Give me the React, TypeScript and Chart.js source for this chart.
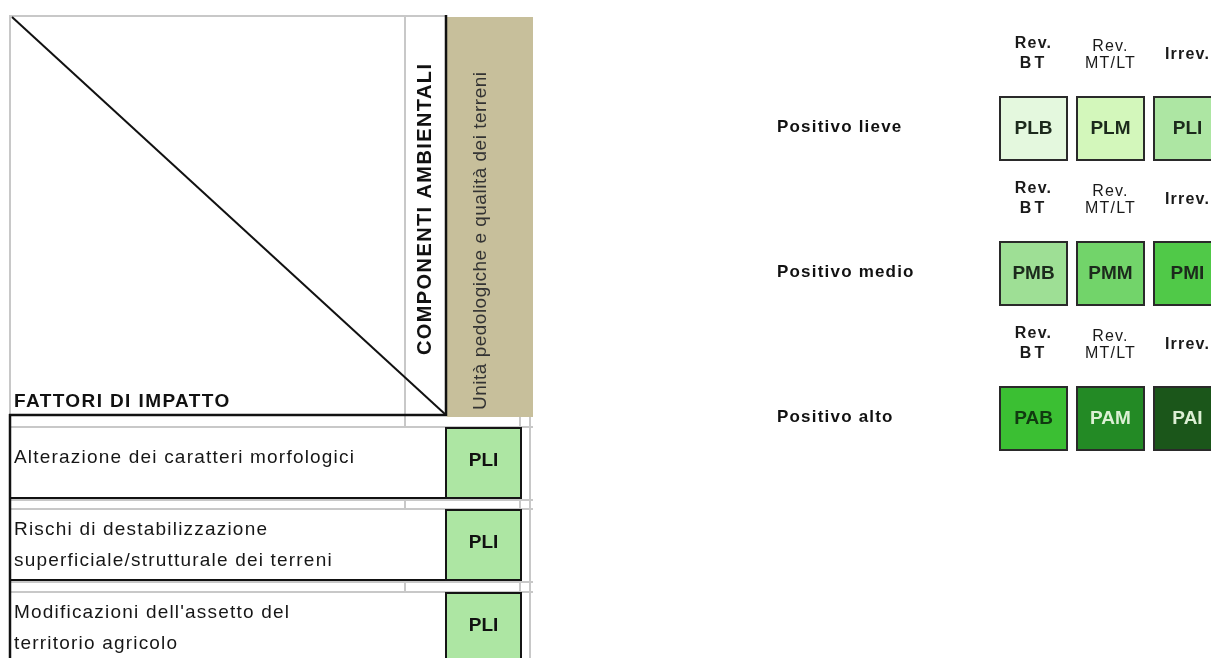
import React, { useEffect, useRef } from "react";
import { Chart, registerables } from "chart.js";

Chart.register(...registerables);

// ---------- data ----------
const headerRows = "FATTORI DI IMPATTO";
const headerCols = "COMPONENTI AMBIENTALI";
const component = "Unità pedologiche e qualità dei terreni";
const factors: string[][] = [
  ["Alterazione dei caratteri morfologici"],
  ["Rischi di destabilizzazione", "superficiale/strutturale dei terreni"],
  ["Modificazioni dell'assetto del", "territorio agricolo"],
];
const factorValues = ["PLI", "PLI", "PLI"];

const levels = ["Positivo lieve", "Positivo medio", "Positivo alto"];
const durations: string[][] = [["Rev.", "BT"], ["Rev.", "MT/LT"], ["Irrev."]];
const codes: string[][] = [
  ["PLB", "PLM", "PLI"],
  ["PMB", "PMM", "PMI"],
  ["PAB", "PAM", "PAI"],
];
const codeColors: Record<string, string> = {
  PLB: "#e4f8de",
  PLM: "#d3f7bb",
  PLI: "#ade6a3",
  PMB: "#9edf95",
  PMM: "#72d46a",
  PMI: "#50c948",
  PAB: "#3bbf33",
  PAM: "#238a25",
  PAI: "#1b561a",
};
const codeTextColors: Record<string, string> = {
  PAB: "#103a10",
  PAM: "#dcf0d4",
  PAI: "#dcefd4",
};

// ---------- layout ----------
const W = 1211;
const H = 658;
const FONT = '"Liberation Sans", Arial, sans-serif';
const rowTops = [428, 510, 593];
const rowH = 70;
const boxX0 = 446;
const boxX1 = 521;
const legendColX = [1000, 1077, 1154];
const legendRowY = [97, 242, 387];
const legendBox = { w: 67, h: 63 };

export default function App() {
  const ref = useRef<HTMLCanvasElement>(null);

  useEffect(() => {
    if (!ref.current) return;

    const matrixPlugin = {
      id: "matrixTable",
      afterDraw(chart: any) {
        const { ctx, scales } = chart;
        const X = (v: number) => scales.x.getPixelForValue(v);
        const Y = (v: number) => scales.y.getPixelForValue(v);

        const line = (x1: number, y1: number, x2: number, y2: number, color: string, w: number) => {
          ctx.save();
          ctx.strokeStyle = color;
          ctx.lineWidth = w;
          ctx.beginPath();
          ctx.moveTo(X(x1), Y(y1));
          ctx.lineTo(X(x2), Y(y2));
          ctx.stroke();
          ctx.restore();
        };
        const rect = (x0: number, y0: number, x1: number, y1: number, fill: string | null, stroke?: string, lw = 2) => {
          const px = X(x0), py = Y(y0), pw = X(x1) - X(x0), ph = Y(y1) - Y(y0);
          ctx.save();
          if (fill) {
            ctx.fillStyle = fill;
            ctx.fillRect(px, py, pw, ph);
          }
          if (stroke) {
            ctx.strokeStyle = stroke;
            ctx.lineWidth = lw;
            ctx.strokeRect(px, py, pw, ph);
          }
          ctx.restore();
        };
        const text = (
          s: string, x: number, y: number, font: string, color: string,
          align: CanvasTextAlign = "left", base: CanvasTextBaseline = "alphabetic", spacing = 0, rot = 0
        ) => {
          ctx.save();
          ctx.font = font;
          ctx.fillStyle = color;
          ctx.textAlign = align;
          ctx.textBaseline = base;
          (ctx as any).letterSpacing = spacing + "px";
          ctx.translate(X(x), Y(y));
          if (rot) ctx.rotate(rot);
          ctx.fillText(s, 0, 0);
          ctx.restore();
        };

        ctx.save();
        ctx.fillStyle = "#ffffff";
        ctx.fillRect(0, 0, chart.width, chart.height);
        ctx.restore();

        // ---------- left matrix ----------
        const gray = "#c8c8c8";
        line(9, 16, 446, 16, gray, 2);
        line(10, 16, 10, 415, gray, 2);
        line(405, 16, 405, H, gray, 2);
        line(520, 417, 520, H, gray, 2);
        line(530, 417, 530, H, gray, 2);
        line(10, 427, 533, 427, gray, 2);
        rowTops.forEach((t, i) => {
          if (i > 0) {
            line(10, rowTops[i - 1] + rowH + 2, 533, rowTops[i - 1] + rowH + 2, gray, 2);
            line(10, t - 1, 533, t - 1, gray, 2);
          }
        });

        // tan header for the component column
        rect(447, 17, 533, 417, "#c7bf9b");

        // factor rows
        const rowFont = `19px ${FONT}`;
        rowTops.forEach((t, i) => {
          rect(11, t, boxX0, t + rowH, "#ffffff");
          line(10, t + rowH, boxX0, t + rowH, "#111", 2);
          const lines = factors[i];
          if (lines.length === 1) {
            text(lines[0], 14, t + 35, rowFont, "#161616", "left", "alphabetic", 1.2);
          } else {
            text(lines[0], 14, t + 24.5, rowFont, "#161616", "left", "alphabetic", 1.2);
            text(lines[1], 14, t + 55.5, rowFont, "#161616", "left", "alphabetic", 1.2);
          }
          const v = factorValues[i];
          rect(boxX0, t, boxX1, t + rowH, codeColors[v], "#151515", 2);
          text(v, (boxX0 + boxX1) / 2, t + rowH / 2 - 2, `bold 19px ${FONT}`, "#111", "center", "middle", 0);
        });
        line(10, 414, 10, H, "#111", 2.5);

        // header lines
        line(446, 15, 446, 416, "#111", 2.5);
        line(9, 415, 447, 415, "#111", 2.5);
        line(12, 17, 446, 415, "#111", 2);

        text(headerRows, 14, 407, `bold 19px ${FONT}`, "#111", "left", "alphabetic", 1.4);
        text(headerCols, 425, 355, `bold 20px ${FONT}`, "#111", "left", "middle", 1.4, -Math.PI / 2);
        text(component, 481, 410, `19px ${FONT}`, "#333", "left", "middle", 0.5, -Math.PI / 2);

        // ---------- right legend ----------
        legendRowY.forEach((top, r) => {
          text(levels[r], 777, top + 30, `bold 17px ${FONT}`, "#111", "left", "middle", 1.2);
          legendColX.forEach((x0, c) => {
            const cx = x0 + legendBox.w / 2;
            const hdr = durations[c];
            if (hdr.length === 2) {
              const w0 = c === 0 ? "bold " : "";
              text(hdr[0], cx, top - (c === 0 ? 53 : 50), `${w0}16px ${FONT}`, "#1a1a1a", "center", "middle", 1.2);
              text(hdr[1], cx, top - 33, `${w0}16px ${FONT}`, "#1a1a1a", "center", "middle", c === 0 ? 3 : 1.2);
            } else {
              text(hdr[0], cx, top - 42, `bold 16px ${FONT}`, "#1a1a1a", "center", "middle", 1.2);
            }
            const code = codes[r][c];
            rect(x0, top, x0 + legendBox.w, top + legendBox.h, codeColors[code], "#2a2a2a", 2);
            text(code, cx, top + legendBox.h / 2, `bold 19px ${FONT}`, codeTextColors[code] || "#1c2a1c", "center", "middle", 0);
          });
        });
      },
    };

    const chart = new Chart(ref.current, {
      type: "scatter",
      data: { datasets: [{ data: [] }] },
      options: {
        animation: false,
        responsive: true,
        maintainAspectRatio: false,
        layout: { padding: 0 },
        scales: {
          x: { type: "linear", min: 0, max: W, display: false },
          y: { type: "linear", min: 0, max: H, reverse: true, display: false },
        },
        plugins: { legend: { display: false }, tooltip: { enabled: false } },
      },
      plugins: [matrixPlugin],
    });
    return () => chart.destroy();
  }, []);

  return (
    <div style={{ position: "fixed", left: 0, top: 0, width: W, height: H, background: "#fff" }}>
      <canvas ref={ref} />
    </div>
  );
}
